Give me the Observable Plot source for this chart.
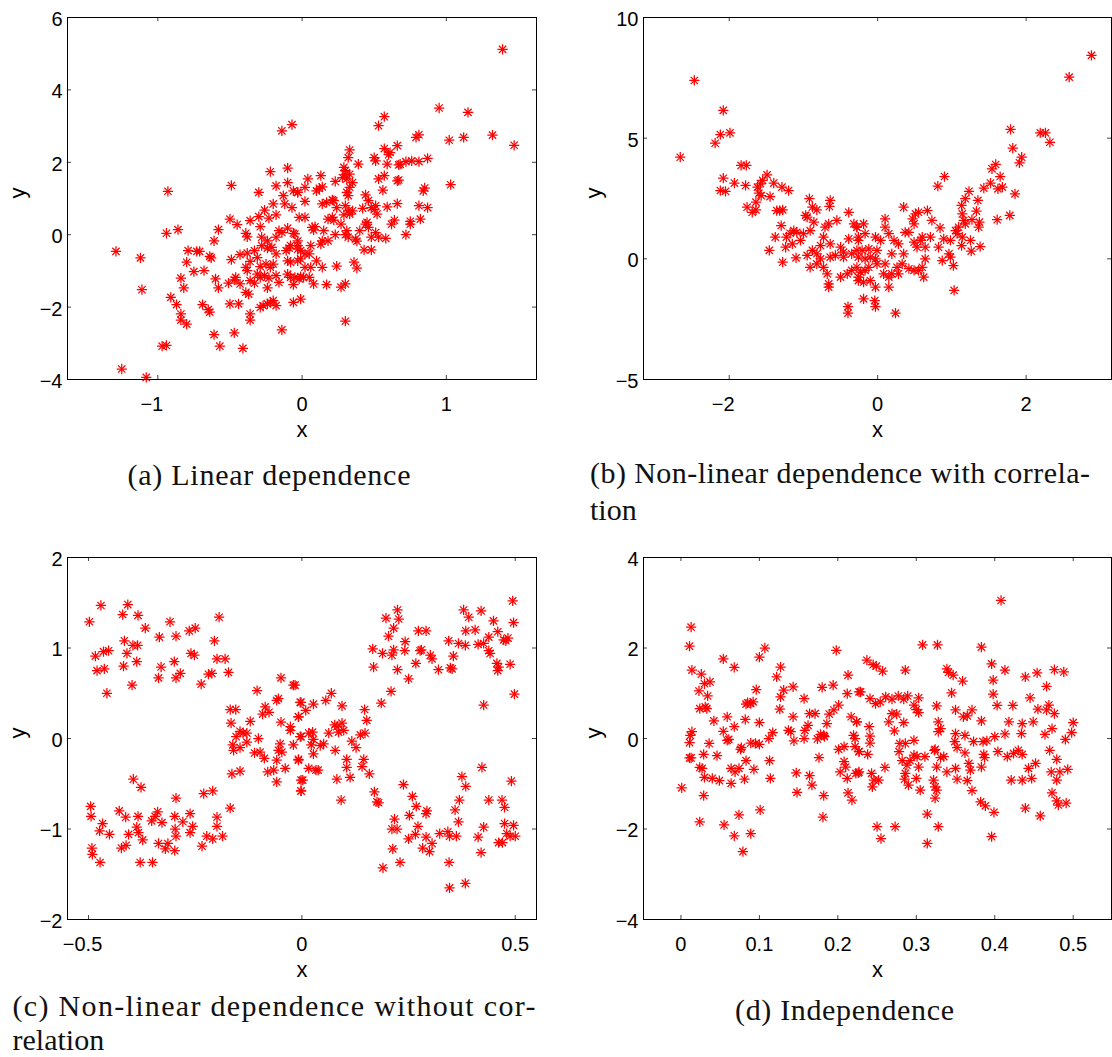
<!DOCTYPE html>
<html><head><meta charset="utf-8">
<script src="https://cdn.jsdelivr.net/npm/d3@7"></script>
<script src="https://cdn.jsdelivr.net/npm/@observablehq/plot@0.6"></script>
<style>
body{margin:0;background:#fff;}
#root{position:relative;width:1112px;height:1057px;overflow:hidden;background:#fff;}
.panel{position:absolute;}
.panel svg{overflow:visible;}
#captions{position:absolute;left:0;top:0;}
</style></head><body><div id="root"></div>
<script>
// ---------- (a) Linear dependence ----------
const aX = [
-1.29,-1.12,-1.11,-0.93,-0.94,-0.86,-0.58,-0.61,-0.49,-0.79,
-0.80,-0.71,-0.73,-0.64,-0.63,-0.75,-0.68,-0.84,-0.82,-0.91,
-0.87,-0.84,-0.84,-0.80,-0.69,-0.65,-0.64,-0.60,-0.58,-0.61,
-0.57,-0.47,-0.41,-0.97,-0.94,-1.25,-1.08,-0.50,-0.44,-0.36,
-0.36,-0.14,-0.14,-0.07,-0.10,-0.22,-0.10,-0.18,-0.30,-0.13,
-0.06,-0.03,-0.20,-0.12,-0.07,-0.26,-0.18,-0.23,-0.30,-0.29,
-0.36,-0.45,-0.39,-0.38,-0.50,-0.49,-0.43,-0.38,-0.33,-0.28,
-0.24,-0.21,-0.16,-0.14,-0.10,-0.06,-0.03,-0.09,-0.11,-0.08,
-0.03,-0.18,-0.20,-0.22,-0.25,-0.29,-0.31,-0.29,-0.26,-0.23,
-0.18,-0.16,-0.10,-0.08,-0.05,-0.02,-0.06,-0.06,-0.10,-0.08,
-0.03,-0.01,-0.38,-0.36,-0.33,-0.39,-0.37,-0.47,-0.51,-0.46,
-0.43,-0.24,-0.22,-0.20,-0.27,-0.29,-0.18,-0.24,-0.39,-0.36,
-0.31,-0.18,-0.24,-0.28,
1.39,0.95,1.15,1.32,1.12,1.02,1.47,1.03,0.57,0.53,
0.79,0.81,0.33,0.32,0.50,0.51,0.57,0.61,0.60,0.66,
0.59,0.39,0.67,0.68,0.72,0.76,0.81,0.87,0.29,0.30,
0.30,0.33,0.28,0.31,0.35,0.33,0.23,0.13,0.04,0.02,
0.10,0.14,0.12,-0.03,0.31,0.32,0.44,0.46,0.53,0.57,
0.56,0.66,0.67,0.85,0.84,0.02,0.14,0.17,0.21,0.22,
0.30,0.24,0.32,0.35,0.33,0.29,0.42,0.48,0.51,0.50,
0.52,0.59,0.66,0.81,0.87,0.82,0.75,0.75,0.72,0.64,
0.62,0.58,0.53,0.51,0.45,0.44,0.46,0.40,0.37,0.38,
0.32,0.31,0.30,0.27,0.23,0.18,0.14,0.13,0.15,0.09,
0.08,0.07,0.02,-0.02,-0.05,-0.03,-0.01,0.02,0.05,0.06,
0.10,0.14,0.06,0.02,-0.01,0.05,0.01,0.08,0.17,0.27,
0.30,0.24,0.36,0.38,0.48,0.30,-0.01,0.48,0.43,0.21,
0.22,0.18];
const aY = [
-0.46,-0.64,-1.52,1.20,0.04,0.14,0.14,-0.17,1.36,-0.44,
-0.76,-0.46,-0.46,-0.60,-0.64,-1.02,-0.99,-1.20,-1.47,-1.73,
-1.93,-2.19,-2.36,-2.47,-1.93,-2.07,-2.14,-1.22,-1.47,-2.76,
-3.08,-2.71,-3.14,-3.08,-3.06,-3.71,-3.94,-1.91,-1.91,-2.19,
-2.36,-2.63,2.87,3.04,1.84,1.74,1.44,1.35,1.17,1.08,
1.21,1.17,0.85,0.85,0.75,0.68,0.55,0.46,0.50,0.22,
0.39,0.28,0.04,-0.06,0.43,-0.69,-0.55,-0.51,-0.44,-0.30,
-0.37,-0.35,0.11,0.06,0.18,0.04,-0.17,-0.37,-0.44,-0.30,
-0.40,-0.53,-0.81,-0.90,-0.81,-0.88,-1.09,-1.18,-1.13,-1.20,
-1.13,-1.32,-1.09,-1.18,-1.18,-1.22,-1.38,-1.87,-0.72,-0.76,
-0.72,-0.67,-0.99,-1.27,-1.34,-1.59,-1.64,-1.25,-1.34,-1.18,
-1.36,-1.91,-1.87,-1.82,-1.96,-2.01,-1.96,-1.47,-0.90,-0.74,
-0.63,-0.07,-0.17,-0.07,
5.12,3.50,3.38,2.75,2.69,2.61,2.47,1.38,3.26,3.01,
2.69,2.76,2.34,2.13,2.13,2.04,2.38,2.27,2.21,2.46,
1.95,1.95,1.93,1.95,2.02,2.04,2.02,2.11,1.86,1.77,
1.66,1.67,1.58,1.54,1.44,1.31,1.47,1.63,1.54,1.31,
1.21,1.32,1.28,1.17,1.17,1.08,1.10,0.94,1.54,1.63,
1.23,1.49,1.51,1.29,1.21,0.92,0.85,0.89,0.96,0.94,
0.80,0.75,0.66,0.66,0.57,0.55,0.73,0.75,0.80,0.69,
0.57,0.77,0.86,0.80,0.75,0.43,0.37,0.29,0.00,0.40,
0.29,-0.10,-0.07,0.06,0.34,0.29,0.20,0.11,-0.12,-0.18,
-0.07,0.11,0.00,0.29,0.00,-0.17,-0.17,-0.26,0.11,0.22,
0.13,0.20,0.48,0.48,0.02,-0.30,-0.44,-0.53,-0.53,-0.30,
-0.72,-0.90,-0.90,-0.90,-1.16,-1.18,-1.18,-1.36,-1.38,-1.45,
-1.36,-0.87,-0.76,-0.92,-0.42,-2.39,-1.78,-0.07,-0.42,0.48,
0.40,0.43];
const aXTicks = [-1, 0, 1];
const aYTicks = [-4, -2, 0, 2, 4, 6];

// ---------- (b) Non-linear dependence with correlation ----------
const bX = [
-2.47,-2.66,-2.08,-2.19,-2.12,-1.99,-1.84,-1.77,-2.08,-2.12,
-2.05,-1.93,-1.78,-1.49,-1.55,-1.58,-1.62,-1.60,-1.57,-1.45,
-1.40,-1.29,-1.20,-1.76,-1.69,-1.64,-1.64,-1.36,-1.32,-1.28,
-1.30,-1.38,-1.46,-1.28,-1.23,-1.18,-1.13,-1.09,-1.15,-1.24,
-1.10,-0.97,-0.92,-0.88,-0.82,-0.95,-0.86,-0.91,-1.00,-0.95,
-0.91,-0.82,-0.73,-0.68,-0.66,-0.66,-0.65,-0.64,-0.66,-0.55,
-0.64,-0.73,-0.77,-0.71,-0.50,-0.46,-0.50,-0.41,-0.35,-0.28,
-0.26,-0.39,-0.32,-0.39,-0.46,-0.35,-0.28,-0.26,-0.40,-0.40,
-0.82,-0.77,-0.88,-1.04,-0.64,-0.57,-0.26,-0.28,
2.88,2.58,1.79,2.19,2.26,2.32,1.82,1.94,1.91,1.59,
1.54,1.65,0.90,0.81,1.43,1.52,1.62,1.68,1.85,1.23,
1.18,1.13,1.35,1.33,1.27,1.37,1.36,1.61,1.78,1.14,
1.16,1.18,1.09,1.05,1.07,1.14,1.25,1.13,1.26,1.38,
0.84,0.73,0.67,0.55,0.51,0.47,0.49,0.35,0.10,-0.19,
-0.28,-0.17,-0.26,-0.03,0.04,0.10,0.15,0.22,0.28,0.37,
0.42,0.49,0.58,0.64,0.60,0.71,0.53,0.64,0.82,0.89,
0.98,0.87,0.98,1.02,0.96,1.03,0.60,0.55,0.49,0.42,
0.33,0.26,0.28,0.19,0.15,0.15,0.08,-0.01,-0.03,-0.10,
-0.12,-0.17,-0.23,-0.26,-0.19,-0.10,-0.03,-0.19,-0.04,-0.03,
0.24,0.62,0.35,0.19,-0.01,-0.12,-0.21,-0.17,0.10];
const bY = [
7.39,4.21,6.15,4.79,5.15,5.22,3.87,3.87,3.34,2.83,
2.80,3.14,3.04,3.48,3.25,3.11,2.97,2.72,2.62,2.58,
3.14,2.97,2.83,2.14,1.93,2.03,2.35,2.00,2.00,2.03,
1.38,0.90,0.35,-0.14,0.90,1.06,1.17,1.10,0.62,0.48,
0.04,1.80,2.49,2.14,2.03,1.73,1.52,1.17,1.04,0.14,
-0.35,-0.21,-0.35,-0.62,-1.04,-1.17,2.17,2.42,1.45,1.59,
0.62,0.90,0.55,1.31,0.48,0.07,-0.76,-0.62,-0.48,-0.35,
-0.76,1.93,1.45,0.83,0.28,0.21,0.35,0.07,-1.98,-2.25,
0.21,0.00,0.35,0.76,0.07,0.14,0.90,1.31,
8.43,7.53,5.36,5.22,5.22,4.83,4.59,4.21,3.98,3.91,
3.73,3.41,3.41,3.01,2.93,3.14,2.90,2.97,2.69,2.80,
2.49,2.21,2.42,1.98,1.62,1.52,1.31,1.62,1.80,1.86,
1.59,1.45,1.31,1.17,1.04,0.90,0.76,0.55,0.32,0.51,
1.28,1.59,2.00,1.93,1.86,1.66,1.45,2.14,1.66,1.45,
1.31,1.04,0.76,0.90,0.76,1.31,1.04,0.76,0.62,1.10,
1.10,0.69,0.76,0.48,0.90,0.90,0.48,0.00,0.48,0.83,
0.76,-0.07,0.07,-0.28,0.21,-1.31,-0.35,-0.48,-0.48,-0.41,
-0.21,-0.35,-0.62,-0.62,-0.76,-1.17,-0.62,-0.21,0.00,0.07,
-0.35,-0.48,-0.55,-0.90,-0.97,-0.90,-1.17,-1.66,-1.73,-1.98,
-2.25,-0.76,0.21,0.21,0.35,0.41,0.35,0.00,-0.21];
const bXTicks = [-2, 0, 2];
const bYTicks = [-5, 0, 5, 10];

// ---------- (c) Non-linear dependence without correlation ----------
const cX = [
-0.498,-0.471,-0.408,-0.420,-0.384,-0.367,-0.309,-0.334,-0.295,-0.264,
-0.250,-0.194,-0.205,-0.484,-0.465,-0.453,-0.480,-0.463,-0.457,-0.416,
-0.410,-0.396,-0.385,-0.418,-0.387,-0.398,-0.330,-0.336,-0.299,-0.295,
-0.285,-0.260,-0.252,-0.236,-0.219,-0.211,-0.199,-0.180,-0.172,-0.105,
-0.049,-0.020,-0.055,-0.059,-0.086,-0.092,-0.077,-0.168,-0.155,-0.166,
-0.121,-0.145,-0.138,-0.129,-0.129,-0.154,-0.162,-0.160,-0.145,-0.102,
-0.111,-0.098,-0.088,-0.080,-0.066,-0.059,-0.055,-0.051,-0.047,-0.059,
-0.039,-0.020,-0.008,-0.049,-0.027,-0.027,-0.008,-0.004,-0.004,-0.002,
-0.002,-0.164,-0.145,-0.395,-0.377,-0.495,-0.494,-0.467,-0.474,-0.451,
-0.428,-0.413,-0.406,-0.423,-0.412,-0.384,-0.387,-0.383,-0.373,-0.492,
-0.491,-0.473,-0.379,-0.350,-0.338,-0.344,-0.352,-0.328,-0.336,-0.320,
-0.314,-0.298,-0.297,-0.295,-0.298,-0.279,-0.262,-0.256,-0.262,-0.295,
-0.230,-0.209,-0.234,-0.223,-0.209,-0.186,-0.199,-0.199,-0.168,
0.494,0.496,0.498,0.379,0.391,0.420,0.449,0.384,0.406,0.344,
0.367,0.383,0.413,0.426,0.438,0.459,0.473,0.483,0.478,0.438,
0.441,0.457,0.461,0.459,0.488,0.355,0.352,0.348,0.320,0.301,
0.305,0.280,0.277,0.267,0.250,0.224,0.227,0.197,0.215,0.203,
0.273,0.291,0.242,0.241,0.215,0.189,0.211,0.166,0.168,0.224,
0.209,0.186,0.426,0.422,0.491,0.375,0.384,0.238,0.259,0.268,
0.293,0.291,0.252,0.217,0.211,0.223,0.272,0.266,0.250,0.283,
0.299,0.291,0.305,0.323,0.342,0.346,0.362,0.367,0.359,0.369,
0.438,0.469,0.475,0.426,0.413,0.420,0.461,0.470,0.475,0.496,
0.480,0.488,0.500,0.213,0.230,0.190,0.345,0.346,0.383,0.170,
0.176,0.180,0.158,0.145,0.141,0.127,0.117,0.105,0.105,0.113,
0.092,0.082,0.078,0.086,0.094,0.098,0.082,0.094,0.069,0.056,
0.027,-0.002,0.009,-0.008,-0.002,0.016,0.025,0.027,0.022,0.043,
0.051,0.063,0.077,0.027,0.033,0.038,0.016,0.002,-0.002,-0.008,
0.147,0.152,0.148,0.137,-0.016];
const cY = [
1.29,1.47,1.48,1.37,1.36,1.22,1.29,1.12,1.13,1.19,
1.22,1.34,1.08,0.91,0.96,0.97,0.75,0.77,0.50,1.08,
0.94,1.03,1.03,0.80,0.85,0.59,0.79,0.67,0.85,0.67,
0.72,0.94,0.92,0.60,0.71,0.72,0.88,0.88,0.73,0.53,
0.67,0.59,0.44,0.42,0.35,0.27,0.29,0.32,0.32,0.17,
0.19,0.08,0.06,0.06,-0.04,0.02,-0.07,-0.13,-0.10,0.00,
-0.16,-0.15,-0.22,-0.37,-0.35,-0.48,-0.13,-0.06,-0.15,-0.24,
-0.33,-0.07,-0.24,0.18,0.13,0.09,0.24,0.40,0.02,-0.46,
-0.58,-0.39,-0.36,-0.45,-0.54,-0.75,-0.86,-0.94,-1.02,-1.06,
-0.80,-0.87,-1.06,-1.21,-1.18,-0.86,-0.98,-1.04,-1.12,-1.21,
-1.28,-1.37,-1.37,-1.37,-0.81,-0.86,-0.91,-0.93,-1.16,-1.22,
-1.16,-0.86,-1.00,-1.08,-1.24,-0.92,-0.83,-0.97,-1.04,-0.66,
-0.61,-0.58,-1.19,-1.08,-1.11,-1.08,-0.87,-0.97,-0.77,
1.52,1.28,0.49,1.42,1.34,1.41,1.30,1.19,1.20,1.08,
1.05,1.03,1.04,1.05,1.12,1.18,1.09,1.11,1.08,0.97,
0.94,0.83,0.79,0.75,0.82,0.91,0.77,0.78,0.76,0.92,
0.88,0.98,0.97,0.83,0.66,1.42,1.32,1.33,1.22,1.13,
1.19,1.19,1.07,0.97,0.98,0.94,0.92,0.99,0.79,0.76,
0.52,0.39,0.37,-0.32,-0.47,-0.42,-0.53,-0.51,-0.64,-0.75,
-0.80,-0.83,-0.85,-0.89,-1.00,-1.00,-0.97,-1.06,-1.11,-1.21,
-1.25,-1.09,-1.16,-1.05,-1.03,-1.08,-1.08,-0.92,-0.79,-0.68,
-0.68,-0.68,-0.76,-0.98,-1.09,-1.26,-1.15,-1.15,-0.94,-0.96,
-1.05,-1.08,-1.08,-1.22,-1.37,-1.43,-1.37,-1.65,-1.60,-0.59,
-0.70,-0.71,-0.39,-0.23,-0.31,-0.10,-0.03,-0.23,-0.32,-0.43,
-0.68,-0.45,-0.13,0.07,0.17,0.09,0.13,0.36,0.50,0.42,
0.38,0.40,0.31,0.24,0.02,0.06,0.07,-0.01,-0.07,-0.08,
-0.06,0.06,0.15,-0.17,-0.35,-0.35,-0.33,-0.46,-0.58,-0.23,
0.32,0.20,0.06,0.04,0.59];
const cXTicks = [-0.5, 0, 0.5];
const cYTicks = [-2, -1, 0, 1, 2];

// ---------- (d) Independence ----------
const dX = [
0.013,0.011,0.014,0.026,0.023,0.030,0.037,0.034,0.024,0.031,
0.033,0.014,0.012,0.011,0.013,0.011,0.024,0.027,0.029,0.036,
0.030,0.029,0.024,0.001,0.042,0.046,0.040,0.049,0.054,0.059,
0.054,0.059,0.061,0.068,0.068,0.064,0.064,0.069,0.074,0.077,
0.076,0.082,0.083,0.081,0.074,0.079,0.068,0.055,0.083,0.085,
0.089,0.092,0.089,0.095,0.093,0.096,0.100,0.107,0.100,0.100,
0.101,0.089,0.112,0.113,0.114,0.117,0.122,0.127,0.126,0.127,
0.131,0.143,0.137,0.140,0.143,0.144,0.147,0.148,0.157,0.158,
0.157,0.162,0.164,0.167,0.176,0.180,0.182,0.183,0.186,0.189,
0.195,0.194,0.201,0.198,0.201,0.203,0.208,0.208,0.210,0.212,
0.213,0.212,0.213,0.218,0.217,0.220,0.224,0.223,0.227,0.227,
0.227,0.174,0.181,0.182,0.178,0.164,0.171,
0.408,0.308,0.327,0.383,0.237,0.245,0.249,0.257,0.286,0.339,
0.341,0.347,0.359,0.396,0.413,0.398,0.439,0.454,0.476,0.488,
0.466,0.229,0.241,0.248,0.254,0.261,0.269,0.277,0.284,0.289,
0.303,0.297,0.300,0.303,0.326,0.345,0.398,0.403,0.423,0.445,
0.455,0.469,0.476,0.466,0.269,0.275,0.265,0.284,0.272,0.240,
0.241,0.241,0.224,0.222,0.222,0.227,0.238,0.226,0.243,0.246,
0.252,0.244,0.260,0.279,0.286,0.297,0.278,0.282,0.288,0.286,
0.285,0.292,0.297,0.301,0.303,0.300,0.290,0.305,0.311,0.323,
0.326,0.335,0.331,0.322,0.324,0.326,0.324,0.314,0.328,0.314,
0.273,0.250,0.255,0.339,0.350,0.352,0.365,0.371,0.369,0.367,
0.362,0.362,0.350,0.349,0.352,0.350,0.360,0.365,0.371,0.383,
0.373,0.385,0.390,0.386,0.387,0.383,0.400,0.404,0.413,0.416,
0.424,0.430,0.435,0.434,0.418,0.435,0.449,0.443,0.452,0.447,
0.435,0.421,0.470,0.479,0.472,0.479,0.483,0.493,0.490,0.498,
0.500,0.464,0.473,0.473,0.479,0.481,0.491,0.439,0.458,0.382,
0.388,0.399,0.396,0.328,0.331,0.328,0.324];
const dY = [
2.46,2.04,1.51,1.42,1.05,1.21,1.25,0.94,0.66,0.70,
0.66,0.15,0.07,-0.09,-0.43,-0.43,-0.64,-0.66,-0.35,-0.11,
-0.86,-1.26,-1.84,-1.09,0.39,-0.38,-0.88,-0.93,1.76,0.48,
0.16,-0.04,-0.02,1.57,0.26,-0.66,-0.99,-0.74,-0.66,-0.20,
-0.24,0.42,-0.49,-0.90,-1.69,-2.50,-2.15,-1.91,0.76,0.79,
0.77,0.81,-0.10,-0.11,-0.68,1.08,1.80,2.00,0.35,-0.13,
-1.58,-2.10,0.00,-0.49,-0.88,0.13,1.36,1.58,0.65,0.92,
1.07,1.14,0.18,0.15,0.48,-0.05,-0.76,-1.19,0.88,0.18,
0.00,0.29,-0.82,-1.03,-0.42,1.13,0.07,0.04,0.33,0.54,
0.63,1.18,0.74,1.95,-0.24,-0.74,-0.18,-0.51,-0.63,-0.88,
1.40,0.99,-1.20,-1.36,0.48,0.07,0.37,-0.77,1.03,-0.74,
-0.29,-0.01,-1.74,-1.26,0.09,0.55,0.55,
3.05,2.07,2.07,2.02,1.73,1.63,1.60,1.49,1.51,1.54,
1.46,1.40,1.27,1.65,1.51,1.29,1.36,1.45,1.52,1.47,
1.15,1.03,0.88,0.77,0.81,0.92,0.87,0.94,0.87,0.94,
0.90,0.74,0.64,0.57,0.72,1.01,0.98,0.73,0.73,0.90,
0.65,0.74,0.55,0.63,0.55,0.54,0.37,0.35,0.17,0.26,
0.05,-0.10,0.37,0.00,-0.18,-0.29,-0.35,-0.76,-0.77,-0.92,
-0.92,-1.07,-0.64,-0.11,-0.11,-0.04,-0.29,-0.49,-0.59,-0.77,
-0.90,-0.49,-0.37,-0.40,-0.63,-0.88,-1.03,-1.14,-0.40,-0.26,
-0.63,-0.40,-0.42,-0.92,-1.07,-1.14,-1.32,-1.67,-1.95,-2.32,
-1.95,-1.95,-2.21,-0.74,-0.66,-0.90,-0.93,-1.15,-0.70,-0.55,
-0.32,0.07,0.11,-0.07,-0.20,0.63,0.48,0.50,0.63,0.39,
-0.07,-0.07,-0.05,-0.35,-0.42,-0.63,0.04,-0.29,0.10,-0.40,
-0.33,-0.26,-0.35,0.11,0.37,0.33,0.37,-0.66,-0.55,-0.88,
-0.92,-0.92,-0.26,-0.46,-0.74,-0.92,-0.74,-0.68,-0.02,0.13,
0.35,0.09,0.22,-1.20,-1.38,-1.47,-1.43,-1.54,-1.71,-1.40,
-1.49,-1.63,-2.17,0.37,0.22,0.15,-0.24];
const dXTicks = [0, 0.1, 0.2, 0.3, 0.4, 0.5];
const dYTicks = [-4, -2, 0, 2, 4];

const axisNames = ["x", "y"];
const captions = [
  "(a) Linear dependence",
  "(b) Non-linear dependence with correla-", "tion",
  "(c) Non-linear dependence without cor-", "relation",
  "(d) Independence"
];

// ---------- layout ----------
const TICK = 4;
const SANS = "'Liberation Sans', Arial, Helvetica, sans-serif";
const SERIF = "'Liberation Serif', 'Times New Roman', serif";
const fmt = d => (d < 0 ? "\u2212" : "") + Math.abs(d);

function panel(xs, ys, xDomain, yDomain, xTicks, yTicks, box) {
  const data = xs.map((x, i) => ({x, y: ys[i]}));
  const ih = box.height - box.mt - box.mb;
  const iw = box.width - box.ml - box.mr;
  const neg = xTicks.filter(d => d < 0), pos = xTicks.filter(d => d >= 0);
  return Plot.plot({
    width: box.width, height: box.height,
    marginLeft: box.ml, marginTop: box.mt, marginRight: box.mr, marginBottom: box.mb,
    x: {domain: xDomain, axis: null},
    y: {domain: yDomain, axis: null},
    style: {fontFamily: SANS, fontSize: "20px", color: "black", background: "transparent"},
    marks: [
      Plot.dot(data, {x: "x", y: "y", symbol: "plus", r: 3.4, stroke: "#ff0000", strokeWidth: 1.25}),
      Plot.dot(data, {x: "x", y: "y", symbol: "times", r: 3.4, stroke: "#ff0000", strokeWidth: 1.25}),
      Plot.tickX(xTicks, {x: d => d, insetTop: ih - TICK, stroke: "#444"}),
      Plot.tickX(xTicks, {x: d => d, insetBottom: ih - TICK, stroke: "#444"}),
      Plot.tickY(yTicks, {y: d => d, insetRight: iw - TICK, stroke: "#444"}),
      Plot.tickY(yTicks, {y: d => d, insetLeft: iw - TICK, stroke: "#444"}),
      Plot.frame({stroke: "black", strokeWidth: 1}),
      Plot.text(pos, {x: d => d, text: fmt, frameAnchor: "bottom", lineAnchor: "top", dy: 17, fontSize: 20}),
      Plot.text(neg, {x: d => d, text: fmt, frameAnchor: "bottom", lineAnchor: "top", dy: 17, dx: -6, fontSize: 20}),
      Plot.text(yTicks, {y: d => d, text: fmt, frameAnchor: "left", textAnchor: "end", dx: -5, dy: 2, fontSize: 20}),
      Plot.text([axisNames[0]], {text: d => d, frameAnchor: "bottom", lineAnchor: "bottom", dy: 57, fontSize: 22}),
      Plot.text([axisNames[1]], {text: d => d, frameAnchor: "left", lineAnchor: "bottom", dx: -43, rotate: -90, fontSize: 22})
    ]
  });
}

const root = document.getElementById("root");
const boxes = [
  {left: 0,   top: 0,   width: 545, height: 450, ml: 67, mt: 17, mr: 9, mb: 71},
  {left: 560, top: 0,   width: 552, height: 450, ml: 83, mt: 17, mr: 1, mb: 71},
  {left: 0,   top: 540, width: 545, height: 450, ml: 67, mt: 17, mr: 9, mb: 71},
  {left: 560, top: 540, width: 552, height: 450, ml: 83, mt: 17, mr: 1, mb: 71}
];
const specs = [
  [aX, aY, [-1.626, 1.625], [-4, 6], aXTicks, aYTicks],
  [bX, bY, [-3.155, 3.15], [-5, 10], bXTicks, bYTicks],
  [cX, cY, [-0.5493, 0.5498], [-2, 2], cXTicks, cYTicks],
  [dX, dY, [-0.0477, 0.5488], [-4, 4], dXTicks, dYTicks]
];
specs.forEach((s, i) => {
  const b = boxes[i];
  const div = document.createElement("div");
  div.className = "panel";
  div.style.left = b.left + "px";
  div.style.top = b.top + "px";
  div.appendChild(panel(...s, b));
  root.appendChild(div);
});

// captions (LaTeX-style subfigure captions)
const capPos = [
  {x: 127.5, y: 485, w: 283},
  {x: 590, y: 483, w: 500},
  {x: 590, y: 520},
  {x: 12.5, y: 1016, w: 523},
  {x: 12.5, y: 1050},
  {x: 735, y: 1020, w: 219}
];
const svg = d3.select(root).append("svg").attr("id", "captions")
  .attr("width", 1112).attr("height", 1057);
captions.forEach((t, i) => {
  const p = capPos[i];
  const el = svg.append("text").attr("x", p.x).attr("y", p.y)
    .attr("font-family", SERIF).attr("font-size", 30).attr("fill", "#111").text(t);
  if (p.w) el.attr("textLength", p.w).attr("lengthAdjust", "spacing");
});
</script>
</body></html>
